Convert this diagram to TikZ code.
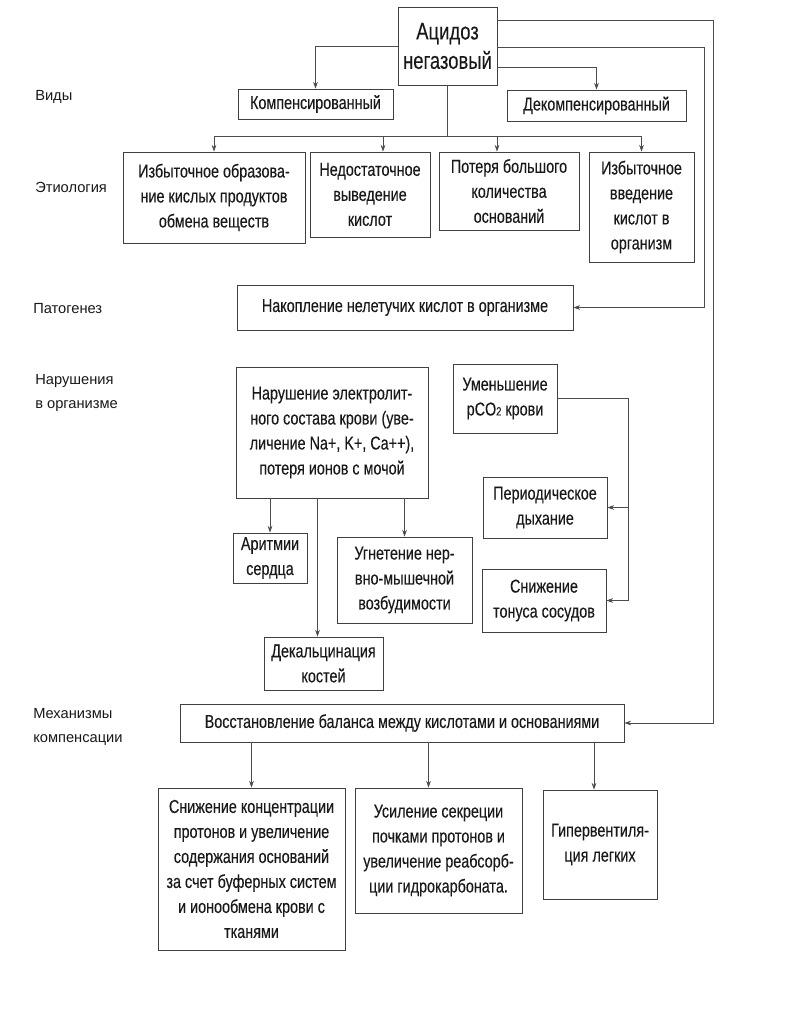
\documentclass[tikz,border=0pt]{standalone}
\usepackage{fontspec}
\setmainfont{Liberation Sans}
\newfontfamily\narrowfont{Liberation Sans}[FakeStretch=0.77,FakeBold=0.15]
\usetikzlibrary{arrows.meta}
\tikzset{
 bx/.style={draw=black!75, line width=0.6pt, inner sep=0pt, align=center, text=black!90,
   font=\narrowfont\fontsize{14}{18.75}\selectfont},
 arr/.style={draw=black!70, line width=0.55pt, -{Stealth[length=5pt,width=3.5pt]}},
 ln/.style={draw=black!70, line width=0.55pt},
 lab/.style={anchor=west, inner sep=0pt, align=left, text=black!90,
   font=\fontsize{11}{18}\selectfont}
}
\newcommand\mybox[6]{\node[bx, minimum width={(#4-#2)*0.75pt}, minimum height={(#5-#3)*0.75pt}] (#1) at ({(#2+#4)/2},{(#3+#5)/2}) {#6};}
\begin{document}
\begin{tikzpicture}[x=0.75pt,y=-0.75pt]
\fill[white] (0,0) rectangle (785,1009);
\useasboundingbox (0,0) rectangle (785,1009);

% left labels
\node[lab] (lv) at (35,97) {Виды};
\node[lab] (le) at (35,187) {Этиология};
\node[lab] (lp) at (33,309) {Патогенез};
\node[lab] (ln) at (35,393) {Нарушения\\в организме};
\node[lab] (lm) at (33,727) {Механизмы\\компенсации};

% boxes
\node[bx, font=\narrowfont\fontsize{18}{22}\selectfont, minimum width={99*0.75pt}, minimum height={78*0.75pt}] (top) at (447.5,46) {Ацидоз\\негазовый};
\mybox{kom}{238}{89}{393}{119}{Компенсированный}
\mybox{dek}{507}{90}{686}{121}{Декомпенсированный}
\mybox{e1}{123}{152}{305}{243}{Избыточное образова-\\ние кислых продуктов\\обмена веществ}
\mybox{e2}{310}{152}{430}{237}{Недостаточное\\выведение\\кислот}
\mybox{e3}{439}{152}{579}{230}{Потеря большого\\количества\\оснований}
\mybox{e4}{589}{152}{694}{262}{Избыточное\\введение\\кислот в\\организм}
\mybox{nak}{237}{285}{573}{330}{Накопление нелетучих кислот в организме}
\mybox{nar}{236}{367}{428}{498}{Нарушение электролит-\\ного состава крови (уве-\\личение Na+, K+, Ca++),\\потеря ионов с мочой}
\mybox{umen}{453}{364}{557}{433}{Уменьшение\\pCO{\fontsize{9}{9}\selectfont 2} крови}
\mybox{per}{483}{477}{607}{538}{Периодическое\\дыхание}
\mybox{sni}{482}{569}{606}{632}{Снижение\\тонуса сосудов}
\mybox{ar}{233}{533}{307}{583}{Аритмии\\сердца}
\mybox{ug}{337}{537}{472}{623}{Угнетение нер-\\вно-мышечной\\возбудимости}
\mybox{dc}{264}{637}{383}{690}{Декальцинация\\костей}
\mybox{vos}{180}{704}{624}{742}{Восстановление баланса между кислотами и основаниями}
\mybox{b1}{158}{788}{345}{950}{Снижение концентрации\\протонов и увеличение\\содержания оснований\\за счет буферных систем\\и ионообмена крови с\\тканями}
\mybox{b2}{355}{788}{522}{913}{Усиление секреции\\почками протонов и\\увеличение реабсорб-\\ции гидрокарбоната.}
\mybox{b3}{543}{790}{657}{899}{Гипервентиля-\\ция легких}

% coordinates
\coordinate (hb) at (447.5,136);
\coordinate (r1) at (713,0);
\coordinate (r2) at (704,0);
\coordinate (r3) at (628,0);
\coordinate (a2) at ([shift={(13,0)}]e2.north);
\coordinate (a3) at ([shift={(-12,0)}]e3.north);
\coordinate (adc) at ([shift={(-6,0)}]dc.north);
\coordinate (ab2) at ([shift={(-10,0)}]b2.north);
\coordinate (ab3) at ([shift={(-6,0)}]b3.north);
\coordinate (t1) at ([shift={(0,-26)}]top.east);
\coordinate (t2) at ([shift={(0,1)}]top.east);
\coordinate (t3) at ([shift={(0,21)}]top.east);

% connectors
\draw[arr] (top.west) -| (kom.north);
\draw[arr] (t3) -| (dek.north);
\draw[ln] (top.south) -- (hb);
\draw[ln] (hb -| e1.north) -- (hb -| e4.north);
\draw[arr] (hb -| e1.north) -- (e1.north);
\draw[arr] (hb -| a2) -- (a2);
\draw[arr] (hb -| a3) -- (a3);
\draw[arr] (hb -| e4.north) -- (e4.north);
\draw[arr] (t1) -- (t1 -| r1) |- (vos.east);
\draw[arr] (t2) -- (t2 -| r2) |- (nak.east);
\draw[arr] (nar.south -| ar.north) -- (ar.north);
\draw[arr] (nar.south -| ug.north) -- (ug.north);
\draw[arr] (nar.south -| adc) -- (adc);
\draw[ln] (umen.east) -- (umen.east -| r3) -- (r3 |- sni.east);
\draw[arr] (r3 |- per.east) -- (per.east);
\draw[arr] (r3 |- sni.east) -- (sni.east);
\draw[arr] (vos.south -| b1.north) -- (b1.north);
\draw[arr] (vos.south -| ab2) -- (ab2);
\draw[arr] (vos.south -| ab3) -- (ab3);
\end{tikzpicture}
\end{document}
